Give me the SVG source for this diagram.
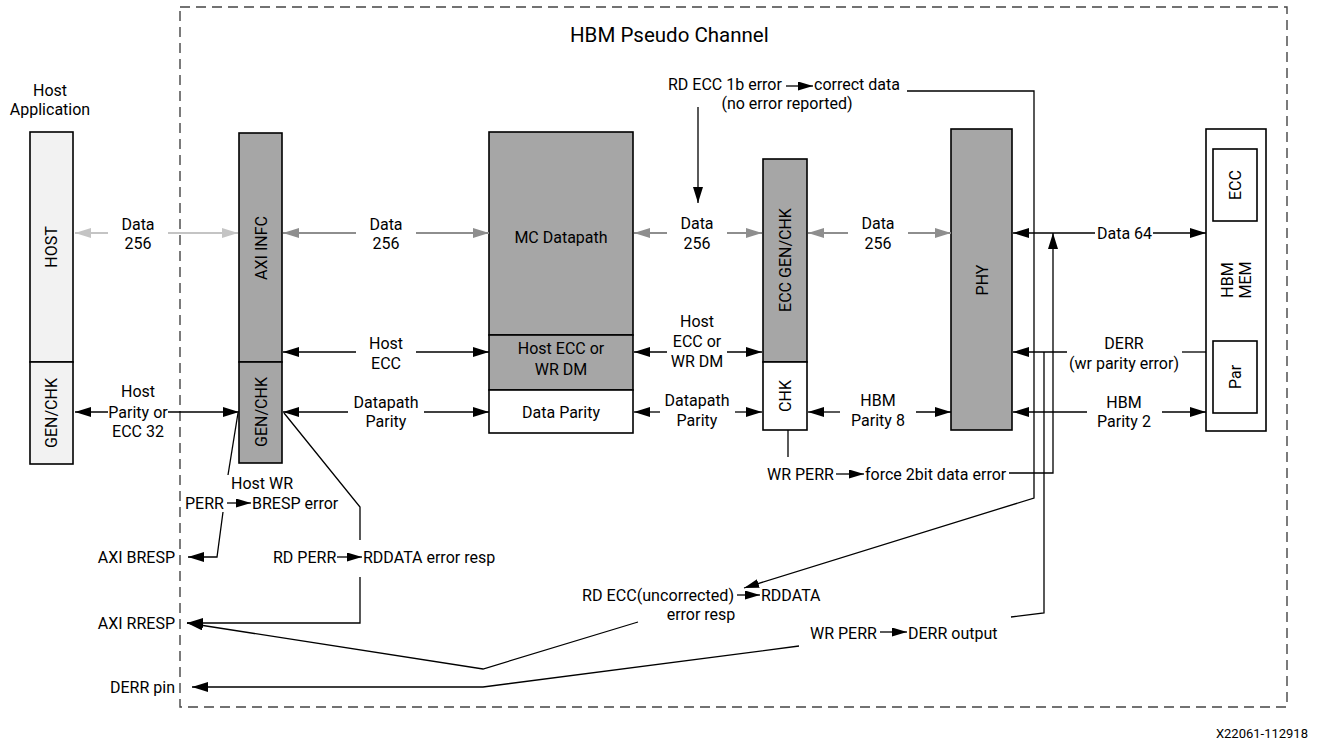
<svg xmlns="http://www.w3.org/2000/svg" width="1324" height="740" viewBox="0 0 1324 740">
<style>
text{font-family:Roboto,"Liberation Sans",sans-serif;font-size:16px;fill:#000;dominant-baseline:central}
.m{text-anchor:middle}
.e{text-anchor:end}
.g{fill:#a6a6a6;stroke:#000;stroke-width:1.6}
.w{fill:#fff;stroke:#000;stroke-width:1.6}
.h{fill:#f2f2f2;stroke:#000;stroke-width:1.6}
.k{stroke:#000;stroke-width:1.3;fill:none}
.ka{stroke:#000;stroke-width:1.3;fill:none;marker-end:url(#a)}
.ks{stroke:#000;stroke-width:1.3;fill:none;marker-end:url(#s)}
.la{stroke:#c4c4c4;stroke-width:2;fill:none;marker-end:url(#al)}
.ga{stroke:#8e8e8e;stroke-width:2;fill:none;marker-end:url(#ag)}
</style>
<defs>
<marker id="a" viewBox="0 0 16 10" refX="16" refY="5" markerWidth="16" markerHeight="10" markerUnits="userSpaceOnUse" orient="auto"><path d="M0,0L16,5L0,10z" fill="#000"/></marker>
<marker id="ag" viewBox="0 0 16 10" refX="16" refY="5" markerWidth="16" markerHeight="10" markerUnits="userSpaceOnUse" orient="auto"><path d="M0,0L16,5L0,10z" fill="#8e8e8e"/></marker>
<marker id="al" viewBox="0 0 16 10" refX="16" refY="5" markerWidth="16" markerHeight="10" markerUnits="userSpaceOnUse" orient="auto"><path d="M0,0L16,5L0,10z" fill="#c4c4c4"/></marker>
<marker id="s" viewBox="0 0 15 9" refX="15" refY="4.5" markerWidth="15" markerHeight="9" markerUnits="userSpaceOnUse" orient="auto"><path d="M0,0L15,4.5L0,9z" fill="#000"/></marker>
</defs>
<rect width="1324" height="740" fill="#fff"/>
<rect x="180" y="7" width="1107" height="700" fill="none" stroke="#444" stroke-width="1.4" stroke-dasharray="10 6"/>
<text x="570" y="35" style="font-size:20.5px">HBM Pseudo Channel</text>
<text class="m" x="50" y="90">Host</text>
<text class="m" x="50" y="109">Application</text>

<g id="host">
<rect class="h" x="30" y="132" width="43" height="230"/>
<rect class="h" x="30" y="362" width="43" height="102"/>
<text class="m" transform="rotate(-90 51 247)" x="51" y="247">HOST</text>
<text class="m" transform="rotate(-90 51 413)" x="51" y="413">GEN/CHK</text>
</g>
<g id="axi">
<rect class="g" x="239" y="133" width="43" height="229"/>
<rect class="g" x="239" y="362" width="43" height="101"/>
<text class="m" transform="rotate(-90 261 248)" x="261" y="248">AXI INFC</text>
<text class="m" transform="rotate(-90 261 412)" x="261" y="412">GEN/CHK</text>
</g>
<g id="mc">
<rect class="g" x="489" y="132" width="144" height="203"/>
<rect class="g" x="489" y="335" width="144" height="55"/>
<rect class="w" x="489" y="390" width="144" height="43"/>
<text class="m" x="561" y="237">MC Datapath</text>
<text class="m" x="561" y="348">Host ECC or</text>
<text class="m" x="561" y="369">WR DM</text>
<text class="m" x="561" y="412">Data Parity</text>
</g>
<g id="ecc">
<rect class="g" x="763" y="159" width="44" height="203"/>
<rect class="w" x="763" y="362" width="44" height="68"/>
<text class="m" transform="rotate(-90 785 260)" x="785" y="260">ECC GEN/CHK</text>
<text class="m" transform="rotate(-90 785 396)" x="785" y="396">CHK</text>
</g>
<g id="phy">
<rect class="g" x="951" y="129" width="61" height="301"/>
<text class="m" transform="rotate(-90 982 280)" x="982" y="280">PHY</text>
</g>
<g id="hbm">
<rect class="w" x="1206" y="129" width="60" height="302"/>
<rect class="w" x="1213" y="149" width="44" height="72"/>
<rect class="w" x="1213" y="341" width="44" height="72"/>
<text class="m" transform="rotate(-90 1235 185)" x="1235" y="185">ECC</text>
<text class="m" transform="rotate(-90 1235 377)" x="1235" y="377">Par</text>
<text class="m" transform="rotate(-90 1227 280)" x="1227" y="280">HBM</text>
<text class="m" transform="rotate(-90 1245 280)" x="1245" y="280">MEM</text>
</g>

<g id="connectors">
<line class="la" x1="108" y1="233" x2="75" y2="233"/>
<line class="la" x1="168" y1="233" x2="238" y2="233"/>
<line class="ka" x1="108" y1="412" x2="75" y2="412"/>
<line class="ka" x1="168" y1="412" x2="239" y2="412"/>
<line class="ga" x1="356" y1="233" x2="283" y2="233"/>
<line class="ga" x1="416" y1="233" x2="489" y2="233"/>
<line class="ka" x1="356" y1="352" x2="283" y2="352"/>
<line class="ka" x1="416" y1="352" x2="489" y2="352"/>
<line class="ka" x1="348" y1="412" x2="283" y2="412"/>
<line class="ka" x1="424" y1="412" x2="489" y2="412"/>
<line class="ga" x1="667" y1="233" x2="634" y2="233"/>
<line class="ga" x1="727" y1="233" x2="762" y2="233"/>
<line class="ka" x1="667" y1="352" x2="634" y2="352"/>
<line class="ka" x1="727" y1="352" x2="762" y2="352"/>
<line class="ka" x1="660" y1="412" x2="634" y2="412"/>
<line class="ka" x1="735" y1="412" x2="762" y2="412"/>
<line class="ga" x1="848" y1="233" x2="808" y2="233"/>
<line class="ga" x1="908" y1="233" x2="951" y2="233"/>
<line class="ka" x1="840" y1="412" x2="808" y2="412"/>
<line class="ka" x1="916" y1="412" x2="951" y2="412"/>
<line class="ka" x1="1095" y1="233" x2="1013" y2="233"/>
<line class="ka" x1="1153" y1="233" x2="1206" y2="233"/>
<line class="ka" x1="1067" y1="352" x2="1013" y2="352"/>
<line class="k" x1="1182" y1="352" x2="1206" y2="352"/>
<line class="ka" x1="1087" y1="412" x2="1013" y2="412"/>
<line class="ka" x1="1162" y1="412" x2="1206" y2="412"/>
<line class="ka" x1="698" y1="107" x2="698" y2="203"/>
<line class="ks" x1="786" y1="86" x2="813" y2="86"/>
<polyline class="ks" points="907,91 1034,91 1034,498 744,588"/>
<polyline class="ka" points="1009,473 1053,473 1053,233"/>
<polyline class="k" points="1044,352 1044,613 1011,617"/>
<line class="k" x1="788" y1="430" x2="788" y2="457"/>
<line class="ks" x1="836" y1="474" x2="864" y2="474"/>
<line class="ks" x1="737" y1="595" x2="760" y2="595"/>
<line class="ks" x1="880" y1="632" x2="907" y2="632"/>
<polyline class="ka" points="799,646 483,687 192,687"/>
<polyline class="ka" points="638,622 483,669 187,623"/>
<polyline class="k" points="284,413 360,507 360,540"/>
<polyline class="ka" points="360,577 360,623 187,623"/>
<line class="ks" x1="337" y1="557" x2="362" y2="557"/>
<line class="k" x1="238" y1="413" x2="228" y2="475"/>
<polyline class="ka" points="223,512 217,557 188,557"/>
<line class="ks" x1="227" y1="503" x2="251" y2="503"/>
</g>

<g id="labels">
<text class="m" x="138" y="224">Data</text>
<text class="m" x="138" y="243">256</text>
<text class="m" x="138" y="391">Host</text>
<text class="m" x="138" y="412">Parity or</text>
<text class="m" x="138" y="431">ECC 32</text>
<text class="m" x="386" y="224">Data</text>
<text class="m" x="386" y="243">256</text>
<text class="m" x="386" y="343">Host</text>
<text class="m" x="386" y="363">ECC</text>
<text class="m" x="386" y="402">Datapath</text>
<text class="m" x="386" y="421">Parity</text>
<text class="m" x="697" y="223">Data</text>
<text class="m" x="697" y="243">256</text>
<text class="m" x="697" y="321">Host</text>
<text class="m" x="697" y="341">ECC or</text>
<text class="m" x="697" y="361">WR DM</text>
<text class="m" x="697" y="400">Datapath</text>
<text class="m" x="697" y="420">Parity</text>
<text class="m" x="878" y="223">Data</text>
<text class="m" x="878" y="243">256</text>
<text class="m" x="878" y="400">HBM</text>
<text class="m" x="878" y="420">Parity 8</text>
<text x="1097" y="233">Data 64</text>
<text class="m" x="1124" y="343">DERR</text>
<text class="m" x="1124" y="363">(wr parity error)</text>
<text class="m" x="1124" y="402">HBM</text>
<text class="m" x="1124" y="421">Parity 2</text>
<text x="668" y="84">RD ECC 1b error</text>
<text x="814" y="84">correct data</text>
<text class="m" x="787" y="103">(no error reported)</text>
<text x="767" y="474">WR PERR</text>
<text x="865" y="474">force 2bit data error</text>
<text class="m" x="262" y="483">Host WR</text>
<text x="185" y="503">PERR</text>
<text x="252" y="503">BRESP error</text>
<text class="e" x="175" y="557">AXI BRESP</text>
<text x="273" y="557">RD PERR</text>
<text x="363" y="557">RDDATA error resp</text>
<text class="e" x="175" y="623">AXI RRESP</text>
<text class="e" x="175" y="687">DERR pin</text>
<text x="582" y="595" textLength="152" lengthAdjust="spacingAndGlyphs">RD ECC(uncorrected)</text>
<text x="761" y="595">RDDATA</text>
<text class="m" x="701" y="614">error resp</text>
<text x="810" y="633">WR PERR</text>
<text x="908" y="633">DERR output</text>
<text class="e" x="1308" y="733" style="font-size:13px">X22061-112918</text>
</g>
</svg>
